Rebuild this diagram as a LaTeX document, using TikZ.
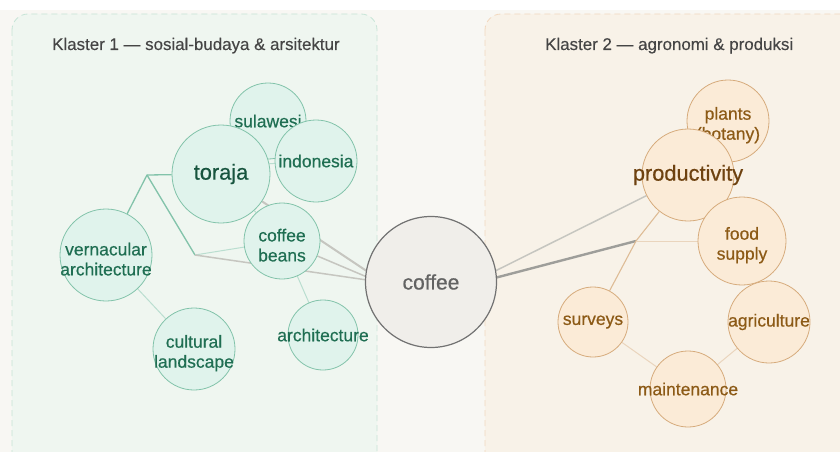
\documentclass[tikz,border=0pt]{standalone}
\usepackage{fontspec}
\setmainfont{Liberation Sans}
\newfontfamily\termfont[FakeBold=0.5]{Liberation Sans}
\newfontfamily\titlefont[FakeBold=0.2]{Liberation Sans}
\pgfdeclarelayer{back}
\pgfdeclarelayer{edges}
\pgfsetlayers{back,edges,main}
\definecolor{pagebg}{HTML}{F8F7F3}
\definecolor{greenbox}{HTML}{EFF6F0}
\definecolor{greendash}{HTML}{C6E4D6}
\definecolor{orangebox}{HTML}{F8F2E8}
\definecolor{orangedash}{HTML}{F2D8BE}
\definecolor{greenfill}{HTML}{E0F3EC}
\definecolor{greenline}{HTML}{82C3AA}
\definecolor{greentext}{HTML}{1F6E52}
\definecolor{toradark}{HTML}{17543E}
\definecolor{orangefill}{HTML}{FBEBD7}
\definecolor{orangeline}{HTML}{D6AB7C}
\definecolor{orangetext}{HTML}{8C5A16}
\definecolor{proddark}{HTML}{6E4210}
\definecolor{hubfill}{HTML}{F0EEEA}
\definecolor{hubline}{HTML}{727272}
\definecolor{hubtext}{HTML}{626262}
\definecolor{greyedge}{HTML}{C6C6C0}
\definecolor{titletext}{HTML}{454545}
\tikzset{
  term/.style={circle,draw,line width=0.8pt,inner sep=-25pt,align=center,
    font=\termfont\fontsize{17.5}{20}\selectfont},
  green term/.style={term,minimum size=#1pt,fill=greenfill,draw=greenline,text=greentext},
  orange term/.style={term,minimum size=#1pt,fill=orangefill,draw=orangeline,text=orangetext},
  pair/.style={text height=41pt},
  big/.style={font=\termfont\fontsize{21.8}{24}\selectfont},
  hub/.style={circle,draw=hubline,fill=hubfill,line width=1.2pt,minimum size=131pt,
    inner sep=0pt,text=hubtext,font=\termfont\fontsize{21}{24}\selectfont},
  cluster/.style={rounded corners=16pt,line width=0.8pt,dash pattern=on 6pt off 4pt},
  cluster title/.style={anchor=base west,inner sep=0pt,text=titletext,
    font=\titlefont\fontsize{16.9}{19}\selectfont},
  grey edge/.style={draw=greyedge,line width=1.5pt},
  green edge/.style={draw=greenline,line width=1.3pt},
  pale green/.style={draw=greenline!55,line width=1pt},
  orange edge/.style={draw=orangeline!80,line width=1.1pt},
  pale orange/.style={draw=orangeline!50,line width=1pt}
}
\begin{document}
\begin{tikzpicture}[x=1pt,y=-1pt]
\clip (0,0) rectangle (840,452);
\begin{pgfonlayer}{back}
\fill[white] (0,0) rectangle (840,452);
\fill[pagebg] (0,10) rectangle (840,452);
\draw[cluster,fill=greenbox,draw=greendash] (12,14) rectangle (377,480);
\draw[cluster,fill=orangebox,draw=orangedash] (485,14) rectangle (870,480);
\end{pgfonlayer}
\node[cluster title] (title1) at (52,50) {Klaster 1 — sosial-budaya \& arsitektur};
\node[cluster title] (title2) at (545,50) {Klaster 2 — agronomi \& produksi};

\node[green term=76] (sula) at (268,121) {sulawesi};
\node[green term=98,big,text=toradark] (toraja) at (221,174) {toraja};
\node[green term=82] (indo) at (316,161) {indonesia};
\node[green term=92,pair] (vern) at (106,255) {vernacular\\architecture};
\node[green term=82,pair] (cult) at (194,349) {cultural\\landscape};
\node[green term=76,pair] (beans) at (282,241) {coffee\\beans};
\node[green term=70] (arch) at (323,335) {architecture};
\node[hub] (coffee) at (431,282) {coffee};
\node[orange term=82,pair] (plants) at (728,121) {plants\\(botany)};
\node[orange term=92,big,text=proddark] (prod) at (688,175) {productivity};
\node[orange term=88,pair] (food) at (742,241) {food\\supply};
\node[orange term=70] (surv) at (593,322) {surveys};
\node[orange term=82] (agri) at (769,322) {agriculture};
\node[orange term=76] (maint) at (688,389) {maintenance};

\coordinate (fork1) at (147,175);
\coordinate (fork2) at (195,255);
\coordinate (fork3) at (636,241);

\begin{pgfonlayer}{edges}
\draw[green edge] (toraja) -- (fork1) -- (vern);
\draw[green edge] (fork1) -- (fork2);
\draw[pale green] (fork2) -- (beans);
\draw[pale green] (toraja) -- (beans);
\draw[pale green] (toraja.12) -- (indo);
\draw[pale green] (vern) -- (cult);
\draw[pale green] (beans) -- (arch);
\draw[grey edge,line width=2pt] (toraja) -- (coffee.170);
\draw[grey edge] (beans) -- (coffee.175);
\draw[grey edge] (fork2) -- (coffee.178);
\draw[grey edge] (coffee.10) -- (prod);
\draw[grey edge,line width=2.4pt,draw=greyedge!80!black] (coffee.4) -- (fork3);
\draw[orange edge] (prod) -- (fork3) -- (surv);
\draw[pale orange] (fork3) -- (food);
\draw[pale orange] (surv) -- (maint);
\draw[pale orange] (maint) -- (agri);
\end{pgfonlayer}
\end{tikzpicture}
\end{document}
